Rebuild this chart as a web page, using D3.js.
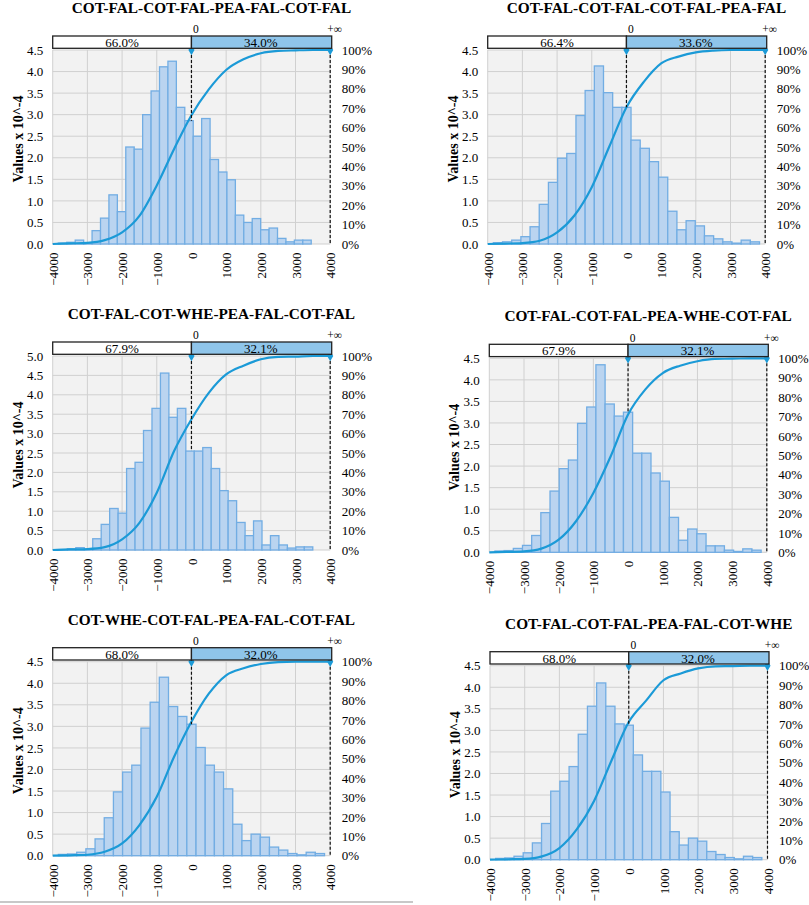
<!DOCTYPE html>
<html>
<head>
<meta charset="utf-8">
<script src="https://cdn.jsdelivr.net/npm/d3@7"></script>
<style>
  body { margin: 0; background: #fff; }
  svg { display: block; }
  text { font-family: "Liberation Serif", "Times New Roman", serif; fill: #000; }
</style>
</head>
<body>
<script>
// ---- data ----
const titles = [
    "COT-FAL-COT-FAL-PEA-FAL-COT-FAL",
    "COT-FAL-COT-FAL-COT-FAL-PEA-FAL",
    "COT-FAL-COT-WHE-PEA-FAL-COT-FAL",
    "COT-FAL-COT-FAL-PEA-WHE-COT-FAL",
    "COT-WHE-COT-FAL-PEA-FAL-COT-FAL",
    "COT-FAL-COT-FAL-PEA-FAL-COT-WHE",
];
const leftShare = ["66.0%", "66.4%", "67.9%", "67.9%", "68.0%", "68.0%"];
const rightShare = ["34.0%", "33.6%", "32.1%", "32.1%", "32.0%", "32.0%"];
const yMax = [4.5, 4.5, 5.0, 4.5, 4.5, 4.5];

// histogram bins: first edge and width, in x units
const binStart = [-3837, -3837, -3822, -3837, -3837, -3837];
const binWidth = [243, 264.6, 244, 264.6, 264.6, 264.6];

// bar heights (values x 10^-4)
const bars1 = [0.02, 0.04, 0.09, 0.02, 0.31, 0.60, 1.14, 0.75, 2.25, 2.20, 3.00, 3.55, 4.11, 4.24, 3.17,
    2.86, 2.50, 2.91, 1.96, 1.67, 1.49, 0.67, 0.50, 0.59, 0.33, 0.37, 0.13, 0.05, 0.09, 0.09];
const bars2 = [0.03, 0.05, 0.09, 0.17, 0.40, 0.92, 1.43, 1.99, 2.10, 2.98, 3.56, 4.13, 3.51, 3.17, 3.17,
    2.41, 2.22, 1.91, 1.55, 0.76, 0.33, 0.54, 0.42, 0.19, 0.12, 0.05, 0.02, 0.09, 0.05];
const bars3 = [0.01, 0.03, 0.06, 0.01, 0.29, 0.66, 1.07, 0.95, 2.10, 2.26, 3.08, 3.65, 4.56, 3.42, 3.65,
    2.55, 2.55, 2.64, 2.10, 1.53, 1.27, 0.71, 0.37, 0.75, 0.13, 0.37, 0.13, 0.05, 0.08, 0.08];
const bars4 = [0.03, 0.04, 0.09, 0.16, 0.39, 0.92, 1.42, 1.94, 2.14, 2.99, 3.37, 4.35, 3.44, 3.16, 3.25,
    2.30, 2.30, 1.84, 1.65, 0.81, 0.28, 0.54, 0.43, 0.15, 0.15, 0.05, 0.02, 0.08, 0.05];
const bars5 = [0.03, 0.04, 0.08, 0.16, 0.39, 0.88, 1.48, 1.94, 2.10, 2.96, 3.56, 4.14, 3.46, 3.23, 3.05,
    2.51, 2.10, 1.94, 1.55, 0.73, 0.35, 0.50, 0.43, 0.20, 0.13, 0.05, 0.02, 0.08, 0.05];
const bars6 = [0.03, 0.04, 0.08, 0.16, 0.39, 0.84, 1.59, 1.82, 2.16, 2.91, 3.56, 4.10, 3.56, 3.15, 3.12,
    2.43, 2.05, 2.05, 1.57, 0.65, 0.34, 0.50, 0.43, 0.19, 0.12, 0.05, 0.02, 0.08, 0.05];

// cumulative curve (%), sampled at cdfX
const cdfX = [-4000, -3500, -3000, -2500, -2000, -1500, -1000, -500, 0, 500, 1000, 1500, 2000, 2500, 3000, 3500, 4000];
const cdf1 = [0, 0.3, 0.6, 2.0, 6.0, 14.5, 30.2, 49.0, 66.4, 79.7, 89.7, 95.2, 98.3, 99.5, 99.8, 100, 100];
const cdf2 = [0, 0.2, 0.5, 1.7, 6.0, 14.7, 29.3, 50.0, 70.5, 83.6, 93.1, 96.6, 98.8, 99.7, 100, 100, 100];
const cdf3 = [0, 0.3, 0.5, 1.5, 5.5, 14.0, 29.5, 51.0, 67.4, 81.0, 90.5, 95.0, 98.3, 99.5, 99.7, 100, 100];
const cdf4 = [0, 0.2, 0.5, 1.9, 6.5, 16.0, 30.6, 49.5, 71.0, 84.0, 92.4, 96.2, 98.5, 99.7, 99.8, 100, 100];
const cdf5 = [0, 0.2, 0.5, 2.0, 6.3, 15.8, 30.4, 51.0, 69.0, 83.5, 93.0, 96.6, 98.8, 99.8, 100, 100, 100];
const cdf6 = [0, 0.2, 0.4, 1.7, 6.0, 15.6, 30.3, 51.0, 71.0, 82.0, 92.5, 96.0, 98.6, 99.7, 99.8, 100, 100];

const xTicks = [-4000, -3000, -2000, -1000, 0, 1000, 2000, 3000, 4000];
const pctTicks = [0, 10, 20, 30, 40, 50, 60, 70, 80, 90, 100];
const delimiters = [0, 4000];
const delimiterLabels = ["0", "+\u221e"];

const bars = [bars1, bars2, bars3, bars4, bars5, bars6];
const cdfs = [cdf1, cdf2, cdf3, cdf4, cdf5, cdf6];

// ---- layout ----
const W = 809, H = 905;
const panelLeft = [52.7, 487.7, 52.7, 489.3, 52.7, 490];
const panelTop = [50, 50, 356, 358.3, 661.7, 665.7];
const plotW = 277.5, plotH = 194;

const BAR_FILL = "#bad4f0", BAR_STROKE = "#72ade3", CURVE = "#1b9ad7", BOX_FILL = "#8fc5ea";
const SERIF = '"Liberation Serif", "Times New Roman", serif';

const svg = d3.select("body").append("svg").attr("width", W).attr("height", H);

function drawPanel(i) {
    const g = svg.append("g").attr("transform", `translate(${panelLeft[i]},${panelTop[i]})`);
    const x = d3.scaleLinear().domain([-4000, 4000]).range([0, plotW]);
    const y = d3.scaleLinear().domain([0, yMax[i]]).range([plotH, 0]);
    const yp = d3.scaleLinear().domain([0, 100]).range([plotH, 0]);
    const yTicks = d3.range(0, yMax[i] + 1e-9, 0.5);

    // plot background + grid
    g.append("rect").attr("width", plotW).attr("height", plotH).attr("fill", "#f2f2f2");
    g.append("g").selectAll("line").data(xTicks).join("line")
        .attr("x1", (d) => x(d)).attr("x2", (d) => x(d))
        .attr("y1", 0).attr("y2", plotH)
        .attr("stroke", "#d0d0d0").attr("stroke-width", 1);
    g.append("g").selectAll("line").data(yTicks).join("line")
        .attr("x1", 0).attr("x2", plotW)
        .attr("y1", (d) => y(d)).attr("y2", (d) => y(d))
        .attr("stroke", "#d0d0d0").attr("stroke-width", 1);

    // histogram
    const bins = bars[i].map((v, k) => ({
        x0: binStart[i] + k * binWidth[i],
        x1: binStart[i] + (k + 1) * binWidth[i],
        v: v,
    }));
    g.append("g").selectAll("rect").data(bins).join("rect")
        .attr("x", (d) => x(d.x0))
        .attr("width", (d) => x(d.x1) - x(d.x0))
        .attr("y", (d) => y(d.v))
        .attr("height", (d) => plotH - y(d.v))
        .attr("fill", BAR_FILL)
        .attr("stroke", BAR_STROKE)
        .attr("stroke-width", 1.3);

    // cumulative curve
    const line = d3.line()
        .x((d, k) => x(cdfX[k]))
        .y((d) => yp(d))
        .curve(d3.curveMonotoneX);
    g.append("path").datum(cdfs[i])
        .attr("d", line)
        .attr("fill", "none")
        .attr("stroke", CURVE)
        .attr("stroke-width", 2.2);

    // delimiter lines drop to the top of the bar they cross
    const barAt = (v) => {
        const b = bins.find((d) => d.x0 <= v && v < d.x1);
        return b ? b.v : 0;
    };
    g.append("g").selectAll("line").data(delimiters).join("line")
        .attr("x1", (d) => x(d)).attr("x2", (d) => x(d))
        .attr("y1", 0).attr("y2", (d) => y(barAt(d)))
        .attr("stroke", "#111").attr("stroke-width", 1.2)
        .attr("stroke-dasharray", "3,2");
    g.append("g").selectAll("path").data(delimiters).join("path")
        .attr("transform", (d) => `translate(${x(d)},0)`)
        .attr("d", d3.symbol(d3.symbolDiamond).size(32))
        .attr("fill", CURVE);

    // delimiter bar on top
    const boxTop = -14, boxH = 12.3;
    g.append("rect")
        .attr("x", x(-4000)).attr("y", boxTop)
        .attr("width", x(delimiters[0]) - x(-4000)).attr("height", boxH)
        .attr("fill", "#fff").attr("stroke", "#222").attr("stroke-width", 1.3);
    g.append("rect")
        .attr("x", x(delimiters[0])).attr("y", boxTop)
        .attr("width", x(delimiters[1]) - x(delimiters[0]) + 1.5).attr("height", boxH)
        .attr("fill", BOX_FILL).attr("stroke", "#222").attr("stroke-width", 1.3);
    g.append("text")
        .attr("x", (x(-4000) + x(delimiters[0])) / 2).attr("y", -3)
        .attr("text-anchor", "middle").attr("font-size", 13)
        .text(leftShare[i]);
    g.append("text")
        .attr("x", (x(delimiters[0]) + x(delimiters[1])) / 2).attr("y", -3)
        .attr("text-anchor", "middle").attr("font-size", 13)
        .text(rightShare[i]);
    g.append("g").selectAll("text").data(delimiters).join("text")
        .attr("x", (d) => x(d) + 4.5).attr("y", -16.8)
        .attr("text-anchor", "middle").attr("font-size", 11.5)
        .text((d, k) => delimiterLabels[k]);

    // axes
    const left = g.append("g")
        .call(d3.axisLeft(y).tickValues(yTicks).tickFormat(d3.format(".1f")).tickSize(0).tickPadding(9.5));
    const right = g.append("g").attr("transform", `translate(${plotW},0)`)
        .call(d3.axisRight(yp).tickValues(pctTicks).tickFormat((d) => d + "%").tickSize(0).tickPadding(11.5));
    const bottom = g.append("g").attr("transform", `translate(0,${plotH})`)
        .call(d3.axisBottom(x).tickValues(xTicks).tickFormat(d3.format("d")).tickSize(0));
    [left, right, bottom].forEach((a) => {
        a.select(".domain").remove();
        a.selectAll("text")
            .attr("font-family", SERIF)
            .attr("font-size", 13)
            .attr("fill", "#000");
    });
    bottom.selectAll("text")
        .attr("transform", "rotate(-90)")
        .attr("text-anchor", "end")
        .attr("x", -8.5).attr("y", 0).attr("dy", "0.35em");

    // y axis title
    g.append("text")
        .attr("transform", `translate(-35,${plotH / 2 - 8}) rotate(-90)`)
        .attr("text-anchor", "middle").attr("dy", "0.35em")
        .attr("font-size", 14).attr("font-weight", "bold")
        .text("Values x 10^-4");

    // panel title
    g.append("text")
        .attr("x", plotW / 2 + 20).attr("y", -37)
        .attr("text-anchor", "middle")
        .attr("font-size", 15.3).attr("font-weight", "bold")
        .text(titles[i]);
}

titles.forEach((t, i) => drawPanel(i));

// thin rule under the left column
svg.append("line")
    .attr("x1", 0).attr("x2", 413).attr("y1", 902).attr("y2", 902)
    .attr("stroke", "#c8c8c8").attr("stroke-width", 2);
</script>
</body>
</html>
